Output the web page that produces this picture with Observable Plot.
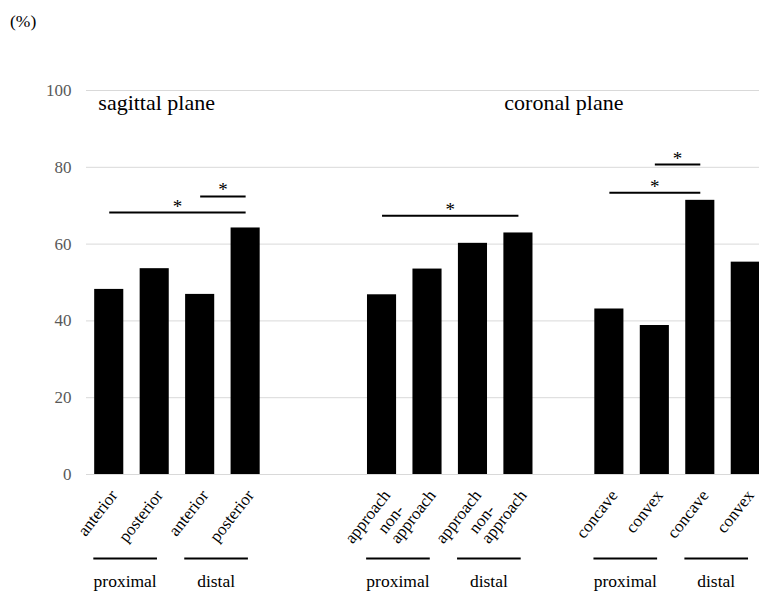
<!DOCTYPE html>
<html><head><meta charset="utf-8">
<script src="https://cdn.jsdelivr.net/npm/d3@7"></script>
<script src="https://cdn.jsdelivr.net/npm/@observablehq/plot@0.6"></script>
<style>
body{margin:0;background:#fff;overflow:hidden}
#unit{height:40px;font-family:"Liberation Serif","Times New Roman",serif;font-size:17.5px;padding:13px 0 0 10px;line-height:1;box-sizing:border-box;color:#000}
#chart svg, #chart svg text, #chart svg tspan{font-family:"Liberation Serif","Times New Roman",serif !important}
</style></head><body>
<div id="unit">(%)</div>
<div id="chart"></div>
<script>
// ---- data ----
const categories = ["anterior","posterior","anterior","posterior",
  "approach","non-\napproach","approach","non-\napproach",
  "concave","convex","concave","convex"];
const values = [48.2,53.6,46.9,64.2, 46.8,53.5,60.2,62.9, 43.1,38.8,71.4,55.3];
const panelSizes = [4,4,4];
const panelGaps = [2,1];
const subgroups = ["proximal","distal","proximal","distal","proximal","distal"];
const planeTitles = ["sagittal plane","coronal plane"];
const sigFrom = [0,2,4,8,9];
const sigTo = [3,3,7,10,10];
const sigY = [68.2,72.4,67.4,73.4,80.7];
const yTicks = [0,20,40,60,80,100];

// ---- build tables ----
const slots = [];
let s = 0;
panelSizes.forEach((n, p) => { for (let i = 0; i < n; i++) slots.push(s++); s += (panelGaps[p] ?? 0); });
const bars = categories.map((c, i) => ({slot: slots[i], value: values[i], label: c}));
const subs = subgroups.map((g, k) => ({c: (slots[2*k] + slots[2*k+1]) / 2 - 0.15, label: g}));
const sig = sigFrom.map((f, i) => ({a: slots[f], b: slots[sigTo[i]], y: sigY[i]}));
const titleLeft = [{x: slots[0] - 0.24, label: planeTitles[0]}];
const titleMid = [{x: (slots[4] + slots[slots.length-1]) / 2, label: planeTitles[1]}];

const serif = '"Liberation Serif","Times New Roman",serif';
const catFont = 17, rot = -52, catDx = 9, catDy = 21, lh = 16;
const ctx = document.createElement("canvas").getContext("2d");
ctx.font = `${catFont}px "Liberation Serif"`;
const rad = rot * Math.PI / 180;
const dir = [Math.cos(rad), Math.sin(rad)];   // baseline direction
const up = [Math.sin(rad), -Math.cos(rad)];   // toward top of glyphs

const lastLine = t => t.split("\n").slice(-1)[0];
const extraMarks = bars.filter(d => d.label.includes("\n")).map(d => {
  const lines = d.label.split("\n");
  const W = ctx.measureText(lines[lines.length-1]).width;
  return Plot.text([d], {
    x: "slot", y: () => 0, text: () => lines.slice(0, -1).join("\n"),
    rotate: rot, textAnchor: "start", lineAnchor: "bottom", fontSize: catFont,
    fontFamily: serif, lineHeight: lh / catFont,
    dx: catDx - W * dir[0] + lh * up[0],
    dy: catDy - W * dir[1] + lh * up[1],
    fill: "black"
  });
});

const chart = Plot.plot({
  width: 759, height: 553,
  marginLeft: 86, marginRight: 0, marginTop: 50, marginBottom: 119,
  style: {fontFamily: serif, background: "#fff", overflow: "visible", color: "#000"},
  x: {domain: [-0.5, 14.5], range: [86, 768], axis: null},
  y: {domain: [0, 100], axis: null},
  marks: [
    Plot.gridY(yTicks, {stroke: "#d9d9d9", strokeOpacity: 1, strokeWidth: 1}),
    Plot.axisY(yTicks, {tickSize: 0, tickPadding: 15, fontSize: 17, fontFamily: serif, fill: "#595959", label: null}),
    Plot.rect(bars, {x1: d => d.slot - 0.32, x2: d => d.slot + 0.32, y1: () => 0, y2: "value", fill: "black"}),
    Plot.link(sig, {x1: "a", x2: "b", y1: "y", y2: "y", stroke: "black", strokeWidth: 2}),
    Plot.text(sig, {x: d => (d.a + d.b) / 2, y: "y", text: () => "*", fontSize: 19, fontFamily: serif, lineAnchor: "bottom", dy: 0, fill: "black"}),
    Plot.text(bars, {x: "slot", y: () => 0, text: d => lastLine(d.label), rotate: rot, textAnchor: "end",
      lineAnchor: "bottom", dx: catDx, dy: catDy, fontSize: catFont, fontFamily: serif, fill: "black"}),
    ...extraMarks,
    Plot.link(subs, {x1: d => d.c - 0.7, x2: d => d.c + 0.7, y1: () => 0, y2: () => 0, dy: 84, stroke: "black", strokeWidth: 2}),
    Plot.text(subs, {x: "c", y: () => 0, text: "label", dy: 112, fontSize: 17.5, fontFamily: serif, lineAnchor: "bottom", fill: "black"}),
    Plot.text(titleLeft, {x: "x", y: () => 100, text: "label", textAnchor: "start", fontSize: 22, fontFamily: serif, lineAnchor: "top", dy: 4, fill: "black"}),
    Plot.text(titleMid, {x: "x", y: () => 100, text: "label", textAnchor: "middle", fontSize: 22, fontFamily: serif, lineAnchor: "top", dy: 4, fill: "black"})
  ]
});
document.getElementById("chart").appendChild(chart);
</script>
</body></html>
